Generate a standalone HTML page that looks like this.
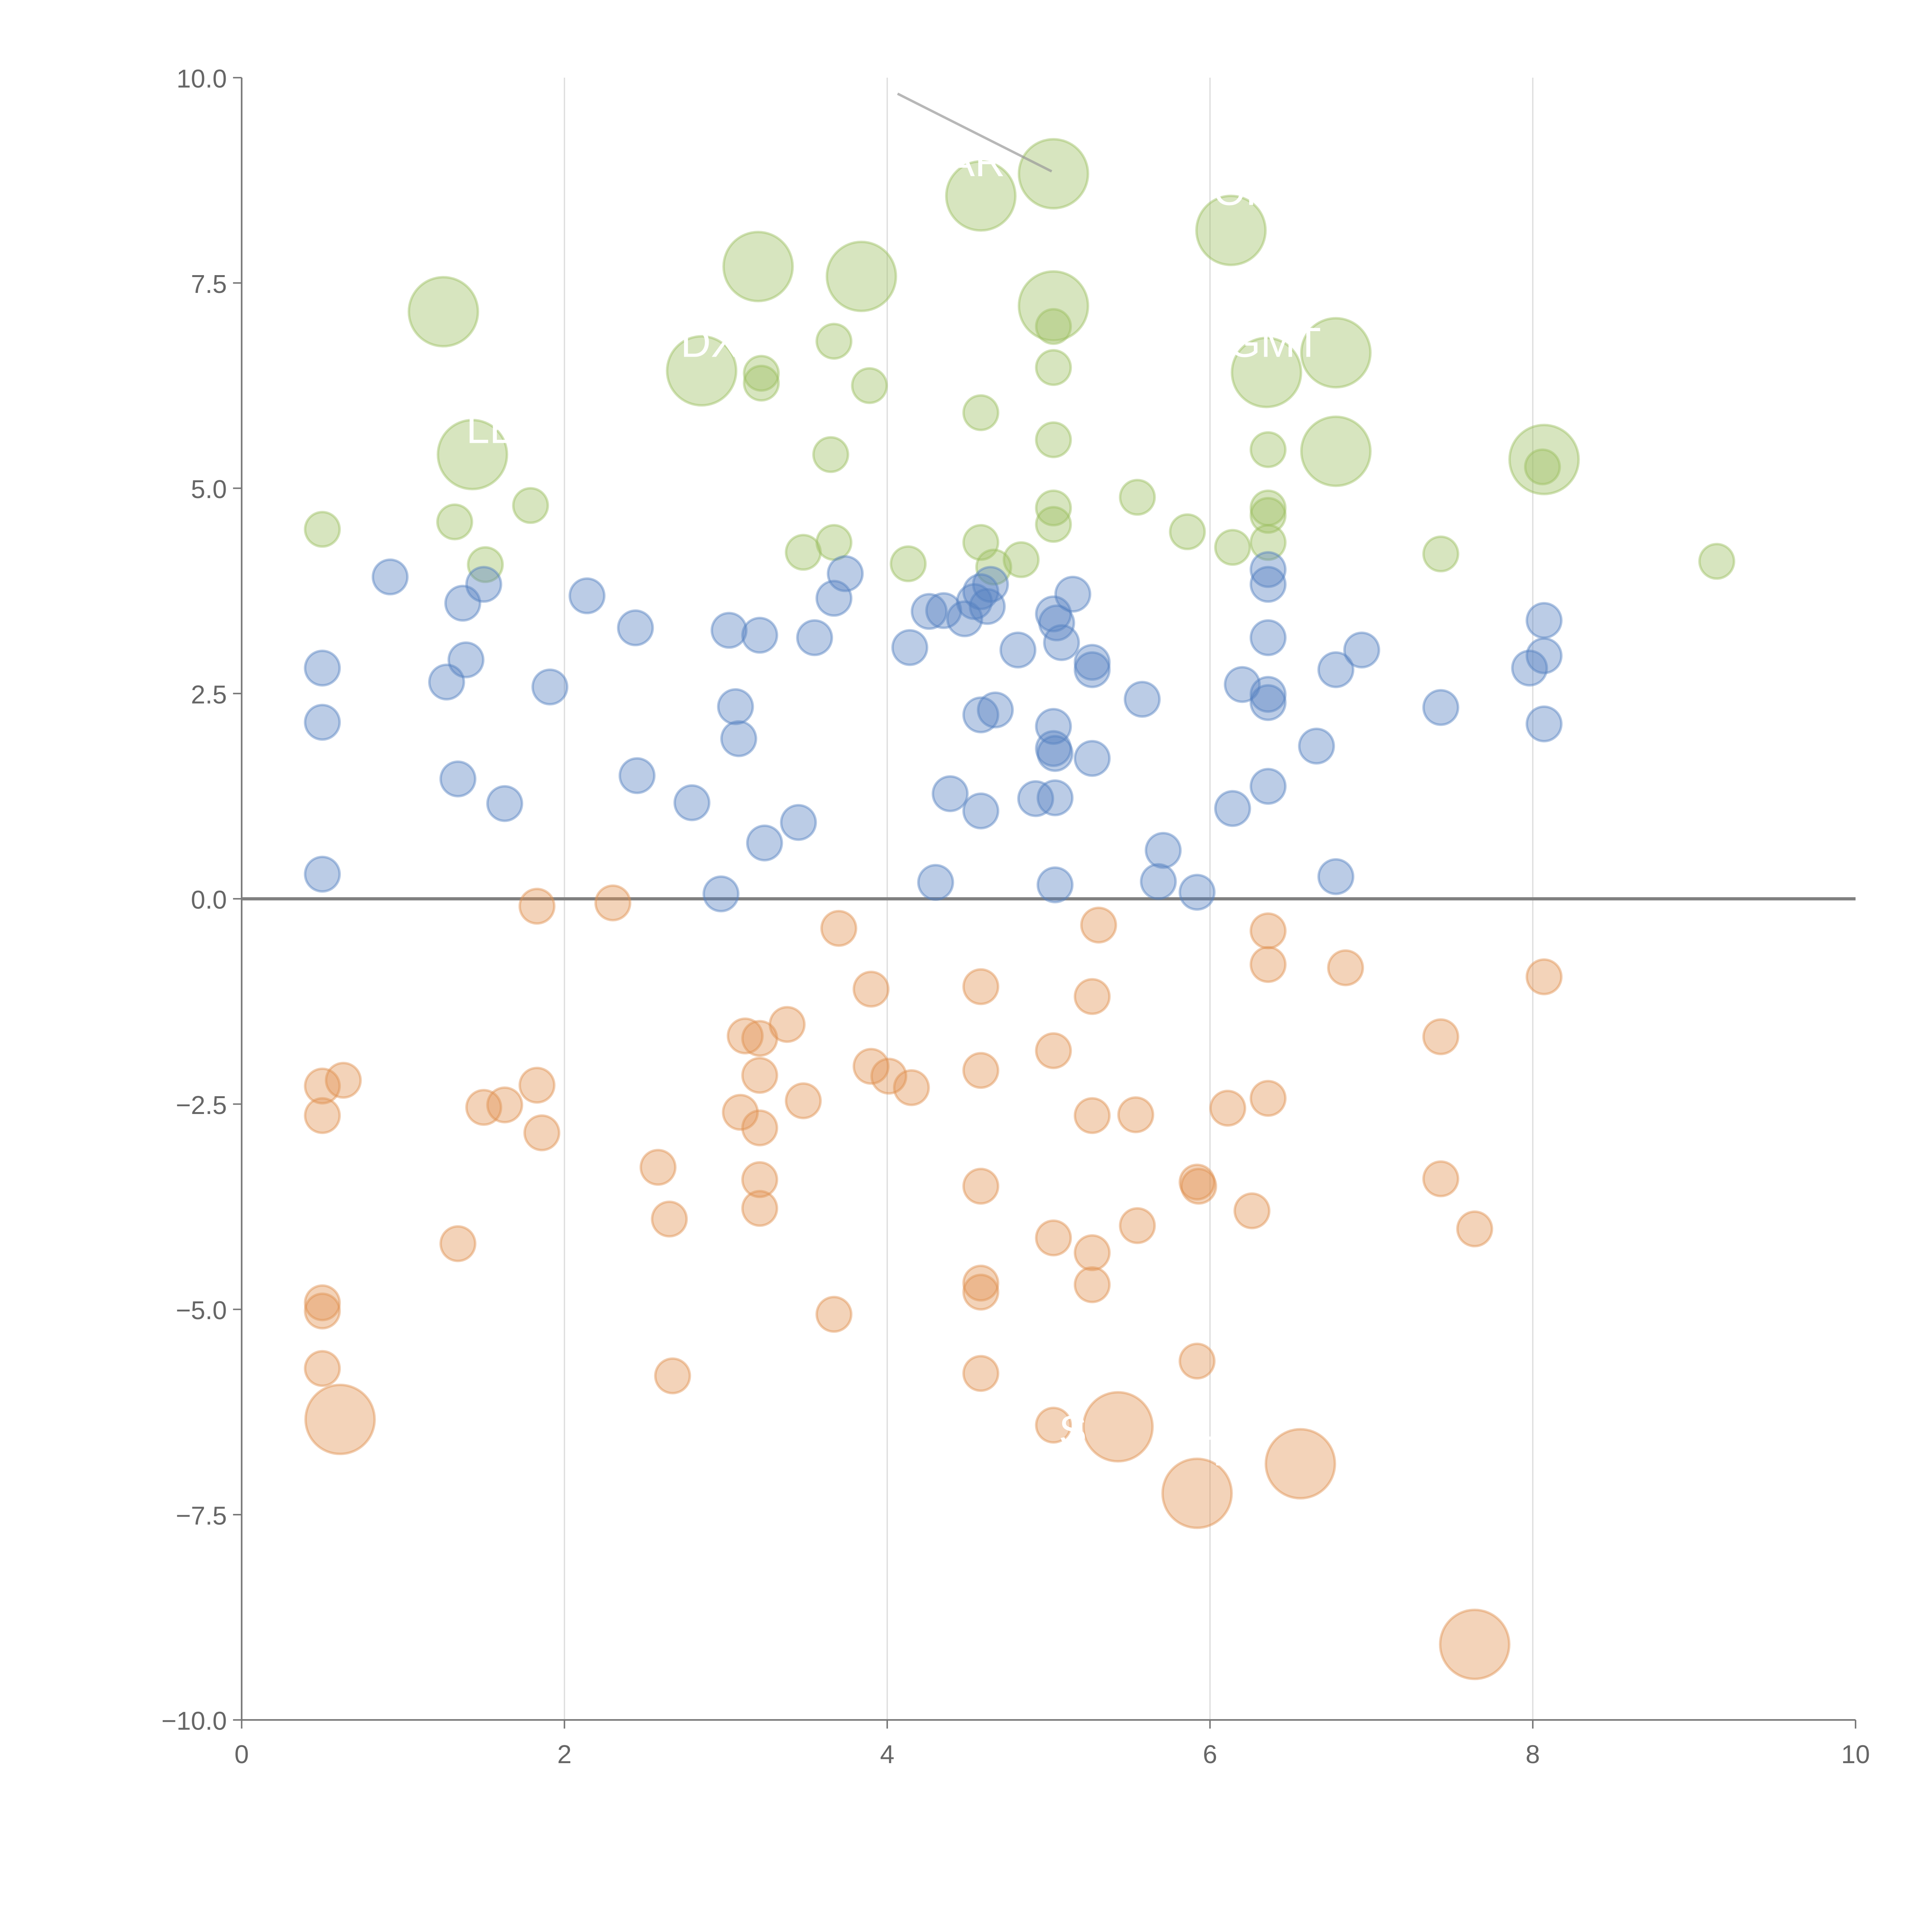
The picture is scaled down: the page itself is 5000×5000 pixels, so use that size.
<!DOCTYPE html>
<html><head><meta charset="utf-8"><style>
html,body{margin:0;padding:0;background:#fff}
svg{display:block}
text{font-family:"Liberation Sans",sans-serif}
</style></head><body>
<svg id="chart" width="5000" height="5000" viewBox="0 0 1567 1567" xmlns="http://www.w3.org/2000/svg">
<g id="grid"></g>
<g id="axes"></g>
<g id="marks"></g>
<g id="labels"></g>
</svg>
<script>
const xTicks=[0,2,4,6,8,10];
const yTicks=[-10,-7.5,-5,-2.5,0,2.5,5,7.5,10];
const greenX=[5.03,4.58,6.13,3.20,3.84,1.25,5.03,6.78,2.85,6.35,1.43,6.78,8.07,5.03,3.67,3.22,3.22,3.89,5.03,4.58,5.03,3.65,6.36,8.06,0.5,1.32,1.79,1.51,3.48,3.67,4.13,4.58,4.66,4.83,5.03,5.03,5.55,5.86,6.14,6.36,6.36,6.36,7.43,9.14];
const greenY=[8.83,8.56,8.14,7.70,7.58,7.15,7.22,6.65,6.43,6.41,5.41,5.45,5.35,6.97,6.79,6.40,6.28,6.25,6.47,5.92,5.59,5.41,5.47,5.26,4.5,4.59,4.79,4.07,4.22,4.34,4.08,4.34,4.04,4.13,4.76,4.56,4.89,4.47,4.28,4.76,4.67,4.34,4.2,4.11];
const greenS=[4,4,4,4,4,4,4,4,4,4,4,4,4,1,1,1,1,1,1,1,1,1,1,1,1,1,1,1,1,1,1,1,1,1,1,1,1,1,1,1,1,1,1,1];
const blueX=[0.92,0.5,0.5,0.5,1.37,1.5,1.39,1.27,1.34,1.63,1.91,2.14,2.44,2.45,2.79,2.97,3.02,3.21,3.06,3.08,3.24,3.45,3.55,3.67,3.74,4.14,4.26,4.35,4.48,4.54,4.58,4.62,4.64,4.58,4.67,4.39,4.58,4.3,4.81,4.92,5.03,5.05,5.08,5.15,5.03,5.03,5.04,5.04,5.04,5.27,5.27,5.27,5.58,5.71,5.68,5.92,6.14,6.2,6.36,6.36,6.36,6.36,6.36,6.36,6.66,6.78,6.94,6.78,7.43,7.98,8.07,8.07,8.07];
const blueY=[3.92,2.81,2.15,0.3,3.6,3.83,2.91,2.64,1.46,1.16,2.58,3.69,3.3,1.5,1.17,0.06,3.27,3.21,2.34,1.95,0.68,0.93,3.18,3.66,3.96,3.06,3.5,3.51,3.41,3.62,3.74,3.56,3.83,2.24,2.3,1.28,1.07,0.2,3.03,1.22,3.47,3.36,3.12,3.71,2.1,1.83,1.77,1.23,0.17,2.88,2.79,1.71,2.43,0.59,0.21,0.08,1.1,2.61,4.01,3.83,3.18,2.49,2.39,1.37,1.86,2.79,3.03,0.27,2.33,2.81,3.39,2.96,2.13];
const orangeX=[1.83,2.3,3.7,5.31,6.36,6.36,6.84,8.07,3.9,4.58,5.27,7.43,3.12,3.21,3.38,5.03,3.9,4.01,4.15,4.58,3.21,0.5,0.63,0.5,1.5,1.63,1.83,1.86,3.09,3.21,3.48,2.58,2.65,3.21,3.21,1.34,5.27,5.54,6.11,6.36,4.58,5.92,5.93,6.26,5.55,5.03,5.27,5.27,4.58,4.58,7.43,7.64,3.67,0.5,0.5,0.5,2.67,4.58,5.92,5.03,0.61,5.43,5.92,6.56,7.64];
const orangeY=[-0.09,-0.05,-0.36,-0.32,-0.39,-0.8,-0.84,-0.95,-1.1,-1.07,-1.19,-1.68,-1.67,-1.7,-1.53,-1.85,-2.04,-2.16,-2.3,-2.09,-2.15,-2.28,-2.21,-2.64,-2.54,-2.51,-2.27,-2.85,-2.6,-2.79,-2.46,-3.27,-3.9,-3.42,-3.77,-4.2,-2.64,-2.63,-2.55,-2.43,-3.5,-3.45,-3.5,-3.8,-3.98,-4.13,-4.31,-4.7,-4.68,-4.79,-3.41,-4.02,-5.06,-4.92,-5.02,-5.72,-5.81,-5.78,-5.63,-6.41,-6.34,-6.43,-7.24,-6.88,-9.08];
const orangeS=[1,1,1,1,1,1,1,1,1,1,1,1,1,1,1,1,1,1,1,1,1,1,1,1,1,1,1,1,1,1,1,1,1,1,1,1,1,1,1,1,1,1,1,1,1,1,1,1,1,1,1,1,1,1,1,1,1,1,1,1,4,4,4,4,4];
const labelText=["AR","OF","DX","GMT","LE","AP","C","T","S"];
const labelX=[4.55,6.2,2.9,6.4,1.55,7.8,6.9,6.05,5.15];
const labelY=[8.8,8.45,6.6,6.6,5.55,-8.5,-6.6,-6.9,-6.65];

const NS="http://www.w3.org/2000/svg";
const X0=196,X1=1505,Y0=1395,Y1=63;
const sx=v=>X0+(v-0)/10*(X1-X0);
const sy=v=>Y0-(v+10)/20*(Y0-Y1);
function mk(tag,attrs,parent){const e=document.createElementNS(NS,tag);for(const k in attrs)e.setAttribute(k,attrs[k]);parent.appendChild(e);return e;}
const grid=document.getElementById('grid'),axes=document.getElementById('axes'),marks=document.getElementById('marks'),labels=document.getElementById('labels');
xTicks.forEach(t=>{
  if(t>0&&t<10){const g=mk('line',{x1:sx(t),x2:sx(t),y1:Y1,y2:Y0,stroke:'#dcdcdc','stroke-width':1},grid);
  
  }
  const tk=mk('line',{x1:sx(t),x2:sx(t),y1:Y0,y2:Y0+7,stroke:'#777','stroke-width':1.2},axes);
  
  
  const tx=mk('text',{x:sx(t),y:Y0+35,'text-anchor':'middle','font-size':21,fill:'#666'},axes);
  tx.textContent=t;
  
  
});
yTicks.forEach(t=>{
  const tk=mk('line',{x1:X0-7,x2:X0,y1:sy(t),y2:sy(t),stroke:'#777','stroke-width':1.2},axes);
  
  
  const tx=mk('text',{x:X0-12,y:sy(t)+8,'text-anchor':'end','font-size':21,fill:'#666'},axes);
  tx.textContent=(t<0?'\u2212':'')+Math.abs(t).toFixed(1);
  
  
});
const ya=mk('line',{x1:X0,x2:X0,y1:Y1,y2:Y0,stroke:'#777','stroke-width':1.3},axes);


const xa=mk('line',{x1:X0,x2:X1,y1:Y0,y2:Y0,stroke:'#777','stroke-width':1.3},axes);


const zl=mk('line',{x1:X0,x2:X1,y1:sy(0),y2:sy(0),stroke:'#808080','stroke-width':2.6},axes);



function series(xs,ys,ss,fill,stroke,name){
  xs.forEach((x,i)=>{
    const s=ss?ss[i]:1;
    const c=mk('circle',{cx:sx(x),cy:sy(ys[i]),r:14*Math.sqrt(s),fill:fill,'fill-opacity':0.4,stroke:stroke,'stroke-opacity':0.45,'stroke-width':2},marks);
    
    
  });
}
series(greenX,greenY,greenS,'#9cbf5f','#9cbf5f','green-bubble');
series(blueX,blueY,null,'#5580c0','#5580c0','blue-bubble');
series(orangeX,orangeY,orangeS,'#e0914f','#e0914f','orange-bubble');

const ll=mk('line',{x1:728,y1:76,x2:853,y2:139,stroke:'#999','stroke-opacity':0.7,'stroke-width':2},labels);


labelText.forEach((t,i)=>{
  const tx=mk('text',{x:sx(labelX[i]),y:sy(labelY[i]),'text-anchor':'middle','font-size':34,fill:'#fff'},labels);
  tx.textContent=t;
  
  
});
</script>
</body></html>
